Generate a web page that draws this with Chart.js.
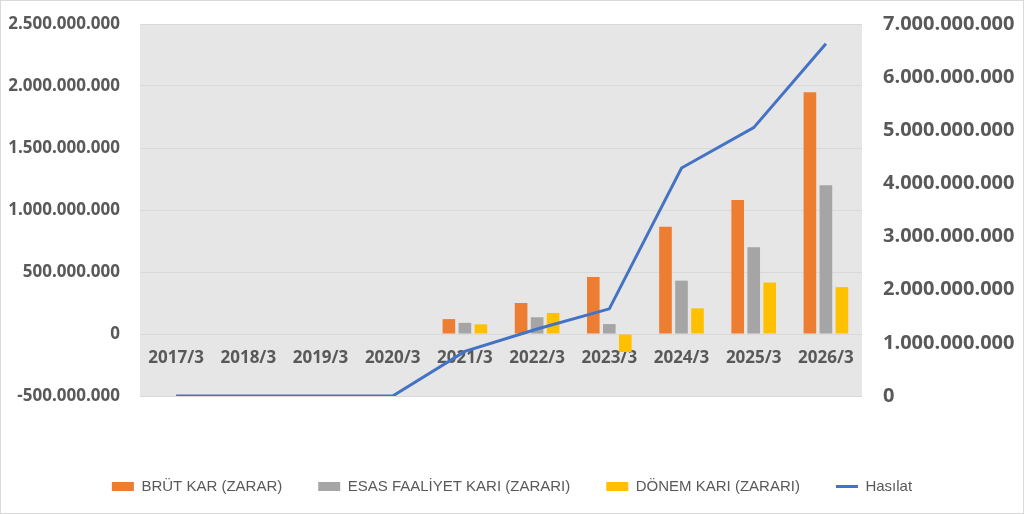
<!DOCTYPE html>
<html>
<head>
<meta charset="utf-8">
<script src="https://cdn.jsdelivr.net/npm/chart.js@4"></script>
<style>
  html, body { margin: 0; padding: 0; background: #fff; }
  #wrap { width: 1024px; height: 514px; }
</style>
</head>
<body>
<div id="wrap"><canvas id="chart"></canvas></div>
<script>
// data
const years = ['2017/3', '2018/3', '2019/3', '2020/3', '2021/3', '2022/3', '2023/3', '2024/3', '2025/3', '2026/3'];
const brutKar = [null, null, null, null, 120000000, 250000000, 460000000, 865000000, 1080000000, 1950000000];
const esasFaaliyet = [null, null, null, null, 90000000, 135000000, 80000000, 430000000, 700000000, 1200000000];
const donemKari = [null, null, null, null, 78000000, 170000000, -145000000, 207000000, 415000000, 378000000];
const hasilat = [0, 0, 0, 0, 840000000, 1260000000, 1640000000, 4290000000, 5050000000, 6630000000];

const axisColor = '#595959';

// 2.500.000.000 style
function fmt(v) {
  const s = Math.abs(v).toFixed(0).replace(/\B(?=(\d{3})+(?!\d))/g, '.');
  return (v < 0 ? '-' : '') + s;
}

// plot background + outer frame
const bgPlugin = {
  id: 'bg',
  beforeDraw(chart) {
    const { ctx, chartArea: a } = chart;
    ctx.save();
    ctx.fillStyle = '#fff';
    ctx.fillRect(0, 0, chart.width, chart.height);
    ctx.strokeStyle = '#d9d9d9';
    ctx.lineWidth = 1;
    ctx.strokeRect(0.5, 0.5, chart.width - 1, chart.height - 1);
    ctx.fillStyle = '#e7e6e6';
    ctx.fillRect(a.left, a.top, a.right - a.left, a.bottom - a.top);
    ctx.restore();
  }
};

// side axes: fixed width, no extra vertical padding from tick padding
function sideFit(w) {
  return s => {
    s.width = w;
    s.paddingTop = 0;
    s.paddingBottom = 0;
  };
}

const ctx = document.getElementById('chart').getContext('2d');
const chart = new Chart(ctx, {
  type: 'bar',
  data: {
    labels: years,
    datasets: [
      { label: 'BRÜT KAR (ZARAR)', data: brutKar, backgroundColor: '#ed7d31', yAxisID: 'y', order: 1, pointStyle: 'rect' },
      { label: 'ESAS FAALİYET KARI (ZARARI)', data: esasFaaliyet, backgroundColor: '#a5a5a5', yAxisID: 'y', order: 1, pointStyle: 'rect' },
      { label: 'DÖNEM KARI (ZARARI)', data: donemKari, backgroundColor: '#ffc000', yAxisID: 'y', order: 1, pointStyle: 'rect' },
      {
        type: 'line', label: 'Hasılat', data: hasilat, yAxisID: 'y2', order: 0,
        borderColor: '#4472c4', backgroundColor: '#4472c4', borderWidth: 3,
        pointRadius: 0, tension: 0, pointStyle: 'line'
      }
    ]
  },
  options: {
    responsive: true,
    maintainAspectRatio: false,
    animation: false,
    datasets: { bar: { categoryPercentage: 0.665, barPercentage: 0.79 } },
    layout: { padding: { top: 24, left: 0, right: 0, bottom: 10 } },
    plugins: {
      tooltip: { enabled: false },
      legend: {
        position: 'bottom',
        labels: {
          usePointStyle: true,
          pointStyleWidth: 22,
          boxHeight: 9,
          padding: 36,
          color: axisColor,
          font: { family: 'Liberation Sans, Arial, sans-serif', size: 15 },
          sort: (a, b) => a.datasetIndex - b.datasetIndex
        }
      }
    },
    scales: {
      x: {
        axis: 'x',
        position: { y: 0 },
        grid: { display: false, drawTicks: false },
        border: { display: false },
        ticks: {
          padding: 14,
          color: axisColor,
          font: { family: 'Open Sans, sans-serif', size: 17, weight: 'bold' },
          maxRotation: 0, autoSkip: false
        },
        afterFit: s => { s.height = 0; }
      },
      gap: {
        axis: 'x',
        type: 'category',
        position: 'bottom',
        grid: { display: false, drawTicks: false },
        border: { display: false },
        ticks: { display: false },
        afterFit: s => { s.height = 47; }
      },
      y: {
        position: 'left',
        min: -500000000,
        max: 2500000000,
        grid: { color: '#d9d9d9', lineWidth: 1, drawTicks: false },
        border: { display: false },
        ticks: {
          stepSize: 500000000,
          padding: 20,
          color: axisColor,
          font: { family: 'Open Sans, sans-serif', size: 17, weight: 'bold' },
          callback: v => fmt(v)
        },
        afterFit: sideFit(140)
      },
      y2: {
        position: 'right',
        min: 0,
        max: 7000000000,
        grid: { display: false, drawTicks: false },
        border: { display: false },
        ticks: {
          stepSize: 1000000000,
          padding: 21,
          color: axisColor,
          font: { family: 'Open Sans, sans-serif', size: 20, weight: 'bold' },
          callback: v => fmt(v)
        },
        afterFit: sideFit(162)
      }
    }
  },
  plugins: [bgPlugin]
});
</script>
</body>
</html>
